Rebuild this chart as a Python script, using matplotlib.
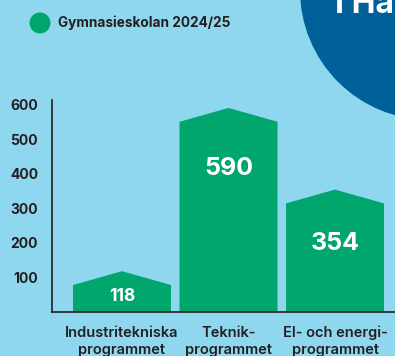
import matplotlib
matplotlib.use('Agg')
import matplotlib.pyplot as plt
from matplotlib.patches import Polygon, Circle

# antal elever per program
programs = ['Industritekniska\nprogrammet', 'Teknik-\nprogrammet', 'El- och energi-\nprogrammet']
students = [118, 590, 354]
yticks = [100, 200, 300, 400, 500, 600]
legend_label = 'Gymnasieskolan 2024/25'

BG = '#8fd7ef'
GREEN = '#00a66b'
DARK_BLUE = '#00609a'
TEXT = '#231f20'
FONT = 'Inter'

fig = plt.figure(figsize=(3.95, 3.56), dpi=100)
fig.patch.set_facecolor(BG)

# stor mörkblå cirkel uppe till höger
fig.add_artist(Circle((4.30, 3.66), 1.30, transform=fig.dpi_scale_trans,
                      facecolor=DARK_BLUE, edgecolor='none', zorder=-1))
fig.text(335 / 395, 1 - 13 / 356, 'I Ha', color='white', fontsize=23,
         fontweight='bold', family=FONT, ha='left', va='baseline')

ax = fig.add_axes([52 / 395, 1 - 312 / 356, 1 - 52 / 395, (312 - 100) / 356])
ax.set_facecolor('none')

width = 0.92
peak = 40
for i, v in enumerate(students):
    x0, x1 = i - width / 2, i + width / 2
    pts = [(x0, 0), (x0, v - peak), (i, v), (x1, v - peak), (x1, 0)]
    ax.add_patch(Polygon(pts, closed=True, facecolor=GREEN, edgecolor='none'))

# värdeetiketter i staplarna
label_y = [44, 416, 199]
label_size = [12.5, 18, 18]
for i, v in enumerate(students):
    ax.text(i, label_y[i], str(v), color='white', fontsize=label_size[i],
            fontweight='bold', family=FONT, ha='center', va='center')

ax.set_xlim(-0.657, 2.563)
ax.set_ylim(0, 613)
ax.set_yticks(yticks)
ax.set_yticklabels([str(t) for t in yticks], fontsize=10, fontweight='bold',
                   family=FONT, color=TEXT)
ax.set_xticks(range(len(programs)))
ax.set_xticklabels(programs, fontsize=10.5, fontweight='semibold', family=FONT,
                   color=TEXT, linespacing=1.25)
ax.tick_params(axis='both', length=0)
ax.tick_params(axis='y', pad=10)
ax.tick_params(axis='x', pad=10)
for s in ['top', 'right']:
    ax.spines[s].set_visible(False)
for s in ['left', 'bottom']:
    ax.spines[s].set_color(TEXT)
    ax.spines[s].set_linewidth(1.2)

# förklaring
fig.add_artist(Circle((40 / 100, (356 - 23) / 100), 0.105, transform=fig.dpi_scale_trans,
                      facecolor=GREEN, edgecolor='none'))
fig.text(58 / 395, 1 - 23 / 356, legend_label, fontsize=9.8, fontweight='bold',
         family=FONT, color=TEXT, ha='left', va='center')

fig.savefig('out.png', dpi=100, facecolor=BG)
